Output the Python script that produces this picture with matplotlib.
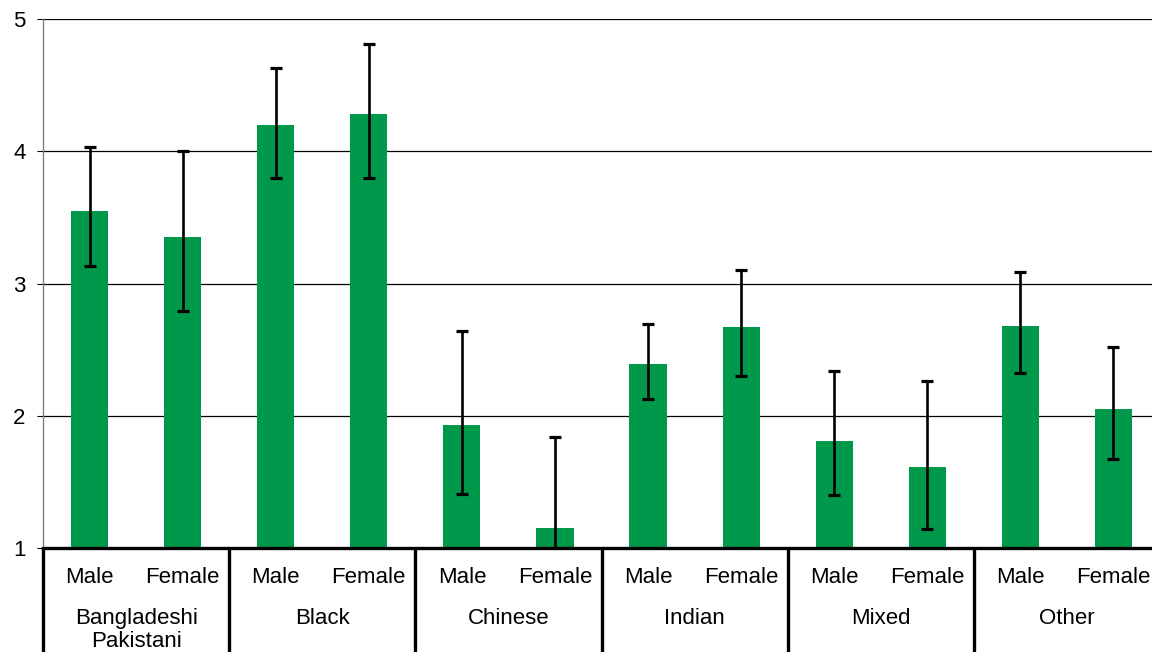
import matplotlib.pyplot as plt
import matplotlib.transforms as mtransforms

plt.rcParams['font.family'] = ['Liberation Sans', 'DejaVu Sans']

groups = ['Bangladeshi\nPakistani', 'Black', 'Chinese', 'Indian', 'Mixed', 'Other']
sexes = ['Male', 'Female']

# mean score per group/sex, in the order Male, Female for each group
means = [3.55, 3.35, 4.20, 4.28, 1.93, 1.15, 2.39, 2.67, 1.81, 1.61, 2.68, 2.05]
# confidence interval bounds
lower = [3.13, 2.79, 3.80, 3.80, 1.41, 0.46, 2.13, 2.30, 1.40, 1.14, 2.32, 1.67]
upper = [4.03, 4.00, 4.63, 4.81, 2.64, 1.84, 2.69, 3.10, 2.34, 2.26, 3.09, 2.52]

green = '#00994C'
fs = 16

fig = plt.figure(figsize=(11.52, 6.52), dpi=100)
ax = fig.add_axes([43 / 1152, 1 - 548 / 652, (1160 - 43) / 1152, (548 - 19) / 652])

x = list(range(len(means)))
yerr = [[m - lo for m, lo in zip(means, lower)], [hi - m for m, hi in zip(means, upper)]]

ax.bar(x, [m - 1 for m in means], bottom=1, width=0.4, color=green, zorder=2)
ax.errorbar(x, means, yerr=yerr, fmt='none', ecolor='black', elinewidth=1.9,
            capsize=4.5, capthick=2.3, zorder=3)

ax.set_xlim(-0.5, len(means) - 0.5)
ax.set_ylim(1, 5)
ax.set_yticks([1, 2, 3, 4, 5])
ax.yaxis.grid(True, color='black', linewidth=0.9, zorder=0)
ax.set_axisbelow(True)
ax.tick_params(axis='y', length=4.5, width=0.8, pad=8, labelsize=fs, colors='black')
ax.set_xticks([])

for side in ['top', 'right']:
    ax.spines[side].set_visible(False)
ax.spines['left'].set_color('#808080')
ax.spines['left'].set_linewidth(1.0)
ax.spines['bottom'].set_color('black')
ax.spines['bottom'].set_linewidth(2.4)
ax.spines['bottom'].set_zorder(4)

# two-level category axis below the plot
trans = mtransforms.blended_transform_factory(ax.transData, fig.transFigure)
for i in x:
    ax.text(i, 1 - 583 / 652, sexes[i % 2], transform=trans, ha='center',
            va='baseline', fontsize=fs)
for g, name in enumerate(groups):
    ax.text(2 * g + 0.5, 1 - 608 / 652, name, transform=trans, ha='center',
            va='top', fontsize=fs, linespacing=1.1)
for g in range(len(groups) + 1):
    xb = 2 * g - 0.5
    ax.plot([xb, xb], [1 - 548 / 652, 0], transform=trans, color='black',
            linewidth=2.4, clip_on=False, solid_capstyle='butt')

fig.savefig('out.png', dpi=100)
